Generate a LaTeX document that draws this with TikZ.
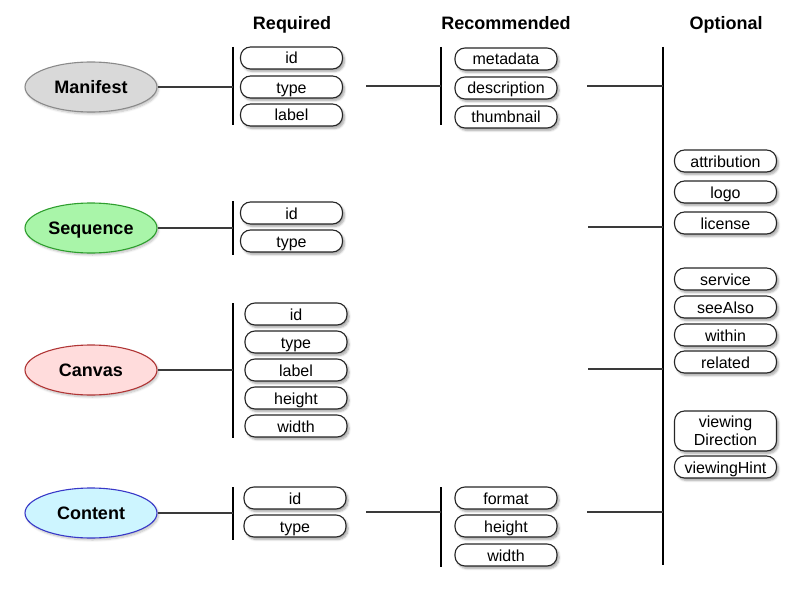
\documentclass[tikz,border=0pt]{standalone}
\usepackage{fontspec}
\setmainfont{Liberation Sans}
\usetikzlibrary{shapes.geometric,shadows.blur}
\definecolor{mangray}{HTML}{D9D9D9}
\definecolor{manline}{HTML}{8A8A8A}
\definecolor{seqfill}{HTML}{A9F5A9}
\definecolor{seqline}{HTML}{2E9E2E}
\definecolor{canfill}{HTML}{FFDCDC}
\definecolor{canline}{HTML}{B03535}
\definecolor{confill}{HTML}{CDF5FF}
\definecolor{conline}{HTML}{3838C8}
\definecolor{connc}{HTML}{3A3A3A}
\begin{document}
\begin{tikzpicture}[x=1pt,y=-1pt,
  propbox/.style={draw=black!85, line width=1.1pt, fill=white, rounded corners=10pt,
    minimum width=102pt, minimum height=22pt, inner sep=0pt,
    text height=12.5pt, text depth=0.5pt,
    font=\fontsize{16}{17}\selectfont,
    blur shadow={shadow xshift=2pt, shadow yshift=-2.5pt, shadow blur steps=6, shadow opacity=35}},
  entity/.style={ellipse, line width=1.1pt, minimum width=132pt, minimum height=50pt,
    inner sep=0pt, text height=13pt, text depth=0pt,
    font=\fontsize{18}{20}\selectfont\bfseries,
    blur shadow={shadow xshift=1.5pt, shadow yshift=-2pt, shadow blur steps=6, shadow opacity=25}},
  header/.style={anchor=base, font=\fontsize{18}{20}\selectfont\bfseries},
  barline/.style={line width=2.6pt, black},
  connline/.style={line width=1.4pt, connc}]
\useasboundingbox (0,0) rectangle (812,602);

% headers
\node[header] (hreq) at (292,30) {Required};
\node[header] (hrec) at (506,30) {Recommended};
\node[header] (hopt) at (726,30) {Optional};

% entities
\node[entity, fill=mangray, draw=manline] (man) at (91,87) {Manifest};
\node[entity, fill=seqfill, draw=seqline] (seq) at (91,228) {Sequence};
\node[entity, fill=canfill, draw=canline] (can) at (91,370) {Canvas};
\node[entity, fill=confill, draw=conline] (con) at (91,513) {Content};

% bars
\coordinate (mreqT) at (233,47);  \coordinate (mreqB) at (233,125);
\coordinate (mrecT) at (441,47);  \coordinate (mrecB) at (441,125);
\coordinate (sreqT) at (233,201); \coordinate (sreqB) at (233,255);
\coordinate (creqT) at (233,303); \coordinate (creqB) at (233,438);
\coordinate (ctreqT) at (233,487); \coordinate (ctreqB) at (233,540);
\coordinate (ctrecT) at (441,487); \coordinate (ctrecB) at (441,567);
\coordinate (optT) at (663,47);   \coordinate (optB) at (663,565);
\foreach \b in {mreq,mrec,sreq,creq,ctreq,ctrec,opt}
  \draw[barline] (\b T) -- (\b B);

% Manifest required
\node[propbox] (mid) at (291.5,58) {id};
\node[propbox] (mtype) at (291.5,87) {type};
\node[propbox] (mlabel) at (291.5,115) {label};
% Manifest recommended
\node[propbox] (mmeta) at (506,59) {metadata};
\node[propbox] (mdesc) at (506,88) {description};
\node[propbox] (mthumb) at (506,117) {thumbnail};
% Sequence required
\node[propbox] (sid) at (291.5,213) {id};
\node[propbox] (stype) at (291.5,241) {type};
% Canvas required
\node[propbox] (cid) at (296,314) {id};
\node[propbox] (ctype) at (296,342) {type};
\node[propbox] (clabel) at (296,370) {label};
\node[propbox] (cheight) at (296,398) {height};
\node[propbox] (cwidth) at (296,426) {width};
% Content required
\node[propbox] (tid) at (295,498) {id};
\node[propbox] (ttype) at (295,526) {type};
% Content recommended
\node[propbox] (tformat) at (506,498) {format};
\node[propbox] (theight) at (506,526) {height};
\node[propbox] (twidth) at (506,555) {width};
% Optional
\node[propbox] (oattr) at (725.5,161) {attribution};
\node[propbox] (ologo) at (725.5,192) {logo};
\node[propbox] (olic) at (725.5,223) {license};
\node[propbox] (oserv) at (725.5,279) {service};
\node[propbox] (osee) at (725.5,307) {seeAlso};
\node[propbox] (owithin) at (725.5,335) {within};
\node[propbox] (orel) at (725.5,362) {related};
\node[propbox, minimum height=40pt, align=center, text height=, text depth=,
  font=\fontsize{16}{18}\selectfont] (ovdir) at (725.5,431) {viewing\\Direction};
\node[propbox] (ovhint) at (725.5,467) {viewingHint};

% connector start points
\coordinate (m2) at (366,86);
\coordinate (m3) at (587,86);
\coordinate (s3) at (588,227);
\coordinate (c3) at (588,369);
\coordinate (t2) at (366,512);
\coordinate (t3) at (587,512);

% connectors
\draw[connline] (man.east) -- (man.east -| mreqT);
\draw[connline] (seq.east) -- (seq.east -| sreqT);
\draw[connline] (can.east) -- (can.east -| creqT);
\draw[connline] (con.east) -- (con.east -| ctreqT);
\draw[connline] (m2) -- (m2 -| mrecT);
\draw[connline] (m3) -- (m3 -| optT);
\draw[connline] (s3) -- (s3 -| optT);
\draw[connline] (c3) -- (c3 -| optT);
\draw[connline] (t2) -- (t2 -| ctrecT);
\draw[connline] (t3) -- (t3 -| optT);
\end{tikzpicture}
\end{document}
